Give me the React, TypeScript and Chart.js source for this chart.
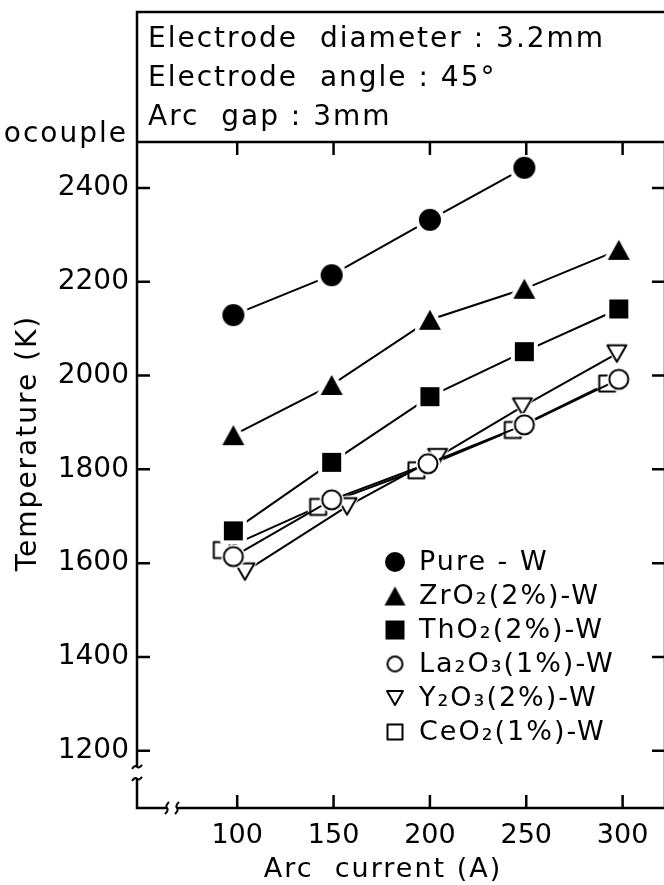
import { useEffect, useRef } from "react";
import { Chart, registerables } from "chart.js";

Chart.register(...registerables);

// ---- data ----
const seriesNames = ["Pure - W", "ZrO₂(2%)-W", "ThO₂(2%)-W", "La₂O₃(1%)-W", "Y₂O₃(2%)-W", "CeO₂(1%)-W"];
const pureCurrent = [98, 149, 200, 249];
const pureTemp = [2129, 2214, 2332, 2443];
const zrCurrent = [98, 149, 200, 249, 298];
const zrTemp = [1873, 1980, 2119, 2185, 2268];
const thCurrent = [98, 149, 200, 249, 298];
const thTemp = [1669, 1815, 1955, 2051, 2142];
const laCurrent = [98, 149, 199, 249, 298];
const laTemp = [1614, 1735, 1812, 1895, 1992];
const yCurrent = [104, 157, 204, 248, 297];
const yTemp = [1582, 1721, 1826, 1934, 2047];
const ceCurrent = [92, 142, 193, 243, 292];
const ceTemp = [1628, 1720, 1798, 1884, 1983];
const xTicks = [100, 150, 200, 250, 300];
const yTicks = [1200, 1400, 1600, 1800, 2000, 2200, 2400];
const noteLines = ["Electrode  diameter : 3.2mm", "Electrode  angle : 45°", "Arc  gap : 3mm"];
const xTitle = "Arc  current (A)";
const yTitle = "Temperature (K)";
const cutLabel = "Thermocouple";

// ---- styles ----
const FONT = "DejaVu Sans";
type Kind = "circle" | "tri" | "dtri" | "square";
const markerKinds: Kind[] = ["circle", "tri", "square", "circle", "dtri", "square"];
const markerFilled = [true, true, true, false, false, false];
const markerSizes = [22, 22, 19, 21, 21, 18];
const markerHalo = [4, 4, 4, 1.5, 1.5, 1.5];
const legendSizes = [20, 21, 19, 17, 18, 17];
const CANVAS_W = 700;
const PLOT_RIGHT = 665;

function pathShape(ctx: CanvasRenderingContext2D, kind: Kind, size: number) {
  ctx.beginPath();
  if (kind === "circle") ctx.arc(0, 0, size / 2, 0, Math.PI * 2);
  else if (kind === "square") ctx.rect(-size / 2, -size / 2, size, size);
  else if (kind === "tri") {
    const h = size * 0.9;
    ctx.moveTo(0, -h / 2);
    ctx.lineTo(size / 2, h / 2);
    ctx.lineTo(-size / 2, h / 2);
    ctx.closePath();
  } else {
    const h = size * 0.87;
    ctx.moveTo(0, h / 2);
    ctx.lineTo(size / 2, -h / 2);
    ctx.lineTo(-size / 2, -h / 2);
    ctx.closePath();
  }
}

function makeMarker(kind: Kind, filled: boolean, size: number, halo: number) {
  const S = Math.ceil(size + 2 * halo + 6);
  const c = document.createElement("canvas");
  c.width = S;
  c.height = S;
  const ctx = c.getContext("2d")!;
  ctx.translate(S / 2, S / 2);
  ctx.lineJoin = "round";
  if (halo > 0) {
    pathShape(ctx, kind, size);
    ctx.strokeStyle = "#fff";
    ctx.lineWidth = 2 * halo;
    ctx.stroke();
    ctx.fillStyle = "#fff";
    ctx.fill();
  }
  pathShape(ctx, kind, filled ? size : size - 2);
  if (filled) {
    ctx.fillStyle = "#000";
    ctx.fill();
  } else {
    ctx.fillStyle = "#fff";
    ctx.fill();
    ctx.lineWidth = 2;
    ctx.strokeStyle = "#000";
    ctx.stroke();
  }
  return c;
}

const decorPlugin = {
  id: "decor",
  afterDraw(chart: any) {
    const ctx: CanvasRenderingContext2D = chart.ctx;
    const { left, right, top, bottom } = chart.chartArea;
    const xs = chart.scales.x;
    const ys = chart.scales.y;
    const W = chart.width;
    ctx.save();
    ctx.strokeStyle = "#000";
    ctx.fillStyle = "#000";
    ctx.lineCap = "butt";
    ctx.lineWidth = 2.5;

    // header box
    ctx.beginPath();
    ctx.moveTo(left, top);
    ctx.lineTo(left, 12);
    ctx.lineTo(W, 12);
    ctx.stroke();

    // frame top & right
    ctx.beginPath();
    ctx.moveTo(left, top);
    ctx.lineTo(W, top);
    ctx.moveTo(right, top);
    ctx.lineTo(right, bottom);
    ctx.stroke();

    // left axis with break
    const yBreak = ys.getPixelForValue(1200) + 16;
    ctx.beginPath();
    ctx.moveTo(left, top);
    ctx.lineTo(left, yBreak);
    ctx.moveTo(left, yBreak + 12);
    ctx.lineTo(left, bottom);
    ctx.lineTo(left + 30, bottom);
    ctx.moveTo(left + 40, bottom);
    ctx.lineTo(W, bottom);
    ctx.stroke();

    // break marks
    ctx.lineWidth = 2;
    for (const dy of [0, 12]) {
      ctx.beginPath();
      ctx.moveTo(left - 5, yBreak + dy + 2);
      ctx.quadraticCurveTo(left - 2, yBreak + dy - 2, left, yBreak + dy);
      ctx.quadraticCurveTo(left + 2, yBreak + dy + 2, left + 5, yBreak + dy - 2);
      ctx.stroke();
    }
    for (const dx of [30, 40]) {
      ctx.beginPath();
      ctx.moveTo(left + dx + 2, bottom - 6);
      ctx.quadraticCurveTo(left + dx - 2, bottom - 2, left + dx, bottom);
      ctx.quadraticCurveTo(left + dx + 2, bottom + 2, left + dx - 2, bottom + 6);
      ctx.stroke();
    }

    // tick marks (inward)
    ctx.lineWidth = 2.5;
    ctx.beginPath();
    for (const v of xTicks) {
      const px = xs.getPixelForValue(v);
      ctx.moveTo(px, bottom);
      ctx.lineTo(px, bottom - 13);
      ctx.moveTo(px, top);
      ctx.lineTo(px, top + 13);
    }
    for (const v of yTicks) {
      const py = ys.getPixelForValue(v);
      ctx.moveTo(left, py);
      ctx.lineTo(left + 13, py);
      ctx.moveTo(right, py);
      ctx.lineTo(right - 13, py);
    }
    ctx.stroke();

    // header text
    ctx.font = `28px "${FONT}"`;
    (ctx as any).letterSpacing = "2px";
    ctx.textAlign = "left";
    ctx.textBaseline = "alphabetic";
    const baselines = [47, 86, 125];
    noteLines.forEach((t, i) => ctx.fillText(t, left + 11, baselines[i]));
    ctx.textAlign = "right";
    ctx.fillText(cutLabel, left - 9, top);

    // axis titles
    ctx.font = `27px "${FONT}"`;
    ctx.textAlign = "center";
    ctx.textBaseline = "middle";
    (ctx as any).letterSpacing = "2px";
    ctx.fillText(xTitle, 383, 870);
    ctx.save();
    ctx.translate(29, 443);
    ctx.rotate(-Math.PI / 2);
    ctx.font = `28px "${FONT}"`;
    ctx.fillText(yTitle, 0, 0);
    ctx.restore();

    // legend
    ctx.font = `27px "${FONT}"`;
    (ctx as any).letterSpacing = "2px";
    ctx.textAlign = "left";
    ctx.textBaseline = "middle";
    const lx = 395;
    const ly0 = 562;
    const step = 34;
    chart.data.datasets.forEach((ds: any, i: number) => {
      const y = ly0 + i * step;
      const m = makeMarker(markerKinds[i], markerFilled[i], legendSizes[i], 0);
      ctx.drawImage(m, lx - m.width / 2, y - m.height / 2);
      ctx.fillText(ds.label, lx + 24, y + 1);
    });
    (ctx as any).letterSpacing = "0px";
    ctx.restore();
  },
};

function pts(xs: number[], ys: number[]) {
  return xs.map((x, i) => ({ x, y: ys[i] }));
}

export default function App() {
  const ref = useRef<HTMLCanvasElement | null>(null);
  useEffect(() => {
    const canvas = ref.current!;
    const seriesData = [
      pts(pureCurrent, pureTemp),
      pts(zrCurrent, zrTemp),
      pts(thCurrent, thTemp),
      pts(laCurrent, laTemp),
      pts(yCurrent, yTemp),
      pts(ceCurrent, ceTemp),
    ];
    const datasets = seriesData.map((d, i) => ({
      label: seriesNames[i],
      data: d,
      showLine: true,
      borderColor: "#000",
      backgroundColor: "#000",
      borderWidth: 2,
      pointStyle: makeMarker(markerKinds[i], markerFilled[i], markerSizes[i], markerHalo[i]),
      pointRadius: 10,
      tension: 0,
    }));
    const chart = new Chart(canvas, {
      type: "scatter",
      data: { datasets },
      options: {
        responsive: false,
        animation: false,
        events: [],
        layout: { padding: { top: 142, right: CANVAS_W - PLOT_RIGHT, left: 0, bottom: 0 } },
        plugins: { legend: { display: false }, tooltip: { enabled: false } },
        scales: {
          x: {
            type: "linear",
            min: 48,
            max: 322,
            grid: { display: false, drawTicks: false },
            border: { display: false },
            afterBuildTicks: (s: any) => {
              s.ticks = xTicks.map((v) => ({ value: v }));
            },
            afterFit: (s: any) => {
              s.height = 77;
            },
            ticks: { font: { family: FONT, size: 27 }, color: "#000", padding: 12, maxRotation: 0, callback: (v: any) => String(v) },
          },
          y: {
            type: "linear",
            min: 1078,
            max: 2498,
            grid: { display: false, drawTicks: false },
            border: { display: false },
            afterBuildTicks: (s: any) => {
              s.ticks = yTicks.map((v) => ({ value: v }));
            },
            afterFit: (s: any) => {
              s.width = 137;
            },
            ticks: { font: { family: FONT, size: 28 }, color: "#000", padding: 8, callback: (v: any) => String(v) },
          },
        },
      },
      plugins: [decorPlugin],
    } as any);
    return () => chart.destroy();
  }, []);
  return (
    <div style={{ position: "fixed", left: 0, top: 0, width: 664, height: 885, overflow: "hidden", background: "#fff" }}>
      <canvas ref={ref} width={CANVAS_W} height={885} style={{ display: "block" }} />
    </div>
  );
}
